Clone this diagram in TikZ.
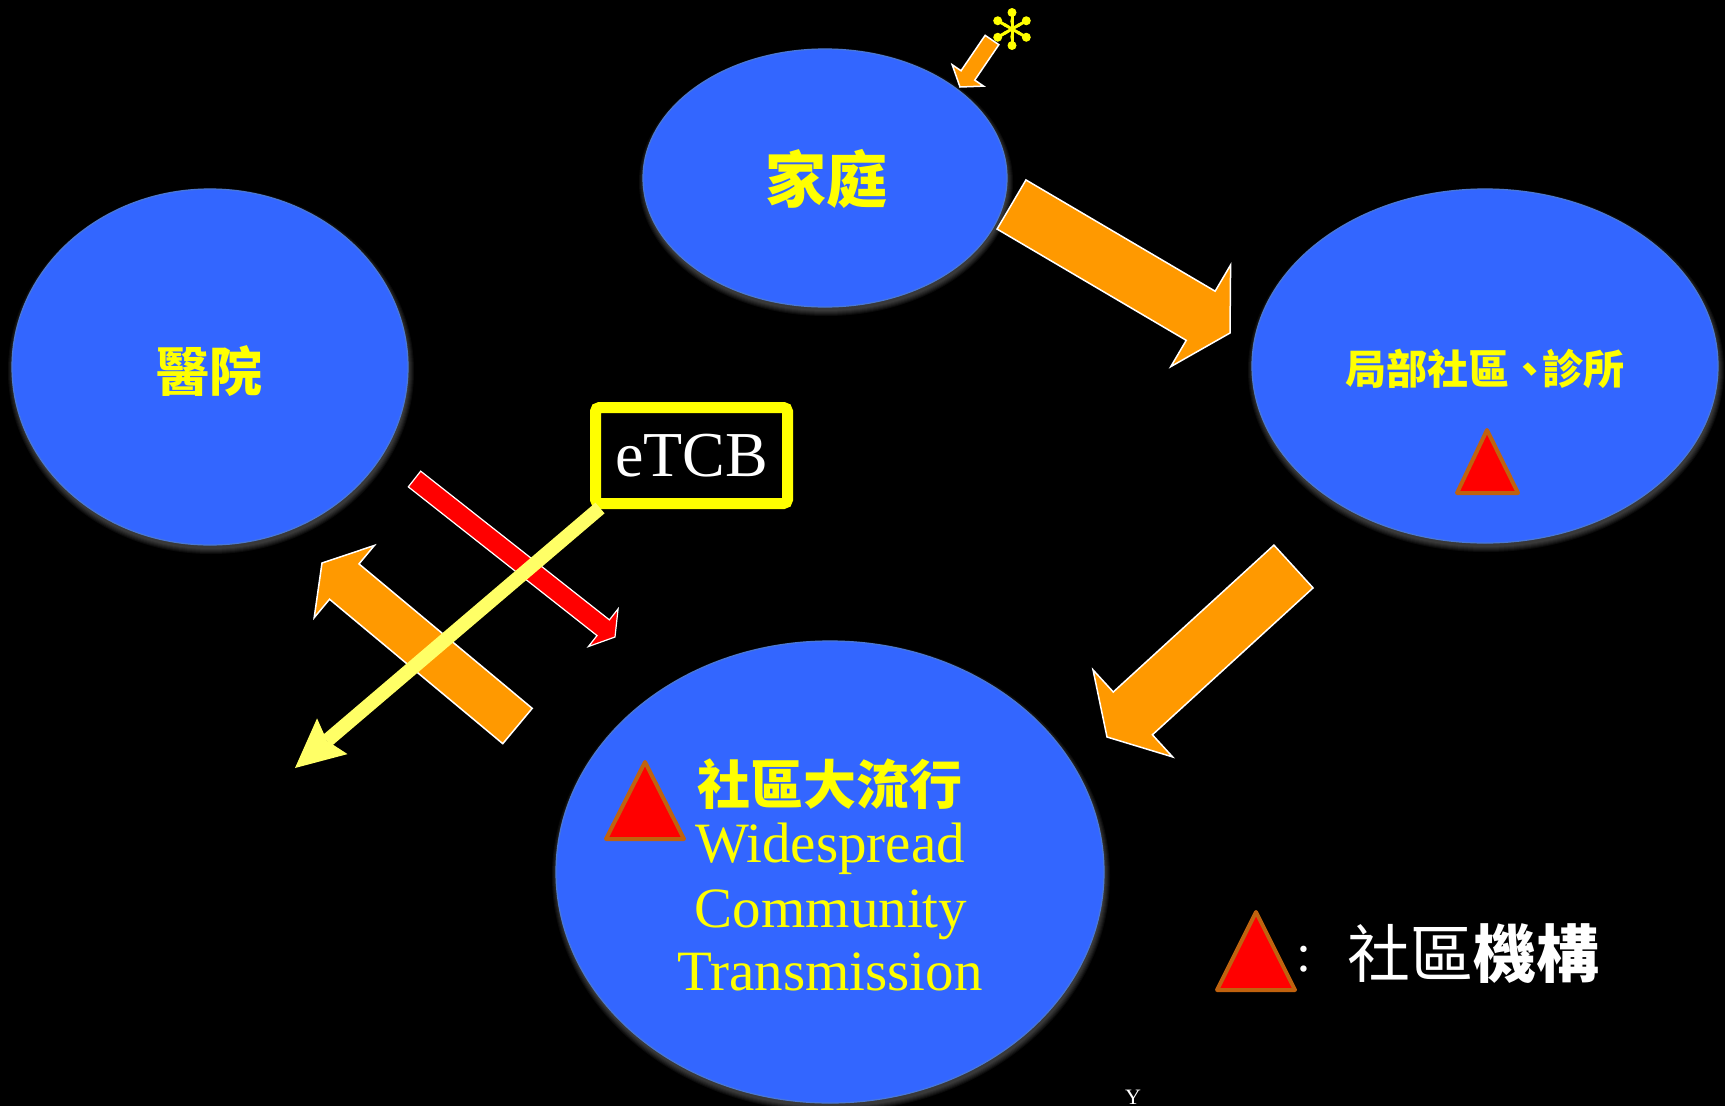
\documentclass[tikz,border=0pt]{standalone}
\usepackage{fontspec}
\setmainfont{Liberation Serif}
\newfontfamily\cjk{Noto Sans CJK TC}
\usetikzlibrary{calc,shapes.geometric}

\definecolor{blob}{HTML}{3366FF}
\definecolor{blobedge}{HTML}{4A78D6}
\definecolor{flow}{HTML}{FF9900}
\definecolor{tcbyellow}{HTML}{FFFF00}
\definecolor{paleyellow}{HTML}{FFFF66}
\definecolor{siteedge}{HTML}{C0620E}

% block arrow: #1 tail, #2 tip, #3 shaft half width, #4 head half width,
% #5 head length, #6 style
\newcommand\blockarrow[6]{%
  \coordinate (#1-neck) at ($(#2)!#5!(#1)$);
  \path[#6] ($(#1)!#3!90:(#2)$) -- ($(#1-neck)!#3!90:(#2)$)
    -- ($(#1-neck)!#4!90:(#2)$) -- (#2)
    -- ($(#1-neck)!#4!-90:(#2)$) -- ($(#1-neck)!#3!-90:(#2)$)
    -- ($(#1)!#3!-90:(#2)$) -- cycle;
}
% soft light halo under an ellipse: #1 centre, #2 x radius, #3 y radius
\newcommand\softglow[3]{%
  \foreach \k in {1,...,6}
    \fill[white, opacity=0.045] ($(#1)+(1,4)$) ellipse ({#2+\k-1} and {#3+\k-1});
}

\tikzset{
  blobnode/.style={ellipse, fill=blob, draw=blobedge, line width=1.2pt, inner sep=0pt},
  cjklabel/.style={text=tcbyellow, inner sep=0pt},
  flowarrow/.style={fill=flow, draw=white, line width=1.5pt, line join=miter},
  redarrow/.style={fill=red, draw=white, line width=1.2pt, line join=miter},
  site/.style={fill=red, draw=siteedge, line width=4pt, line join=round},
  engline/.style={text=tcbyellow, anchor=base, inner sep=0pt,
    font=\fontsize{57}{60}\selectfont},
}

\begin{document}
\begin{tikzpicture}[x=1pt,y=-1pt]
\fill[black] (0,0) rectangle (1725,1106);
\useasboundingbox (0,0) rectangle (1725,1106);

% ellipse centres
\coordinate (cFam)  at (825,178);
\coordinate (cHosp) at (210,367);
\coordinate (cLoc)  at (1485,366);
\coordinate (cComm) at (830,872);

\softglow{cFam}{182}{129}
\softglow{cHosp}{198}{178}
\softglow{cLoc}{233}{177}
\softglow{cComm}{274}{231}

\node[blobnode, minimum width=364pt, minimum height=258pt] (fam)  at (cFam)  {};
\node[blobnode, minimum width=396pt, minimum height=356pt] (hosp) at (cHosp) {};
\node[blobnode, minimum width=466pt, minimum height=354pt] (loc)  at (cLoc)  {};
\node[blobnode, minimum width=548pt, minimum height=462pt] (comm) at (cComm) {};

% labels
\node[cjklabel, font=\cjk\bfseries\fontsize{61}{61}\selectfont] (famtext) at (826,179) {家庭};
\node[cjklabel, font=\cjk\bfseries\fontsize{53}{53}\selectfont] (hosptext) at (209,371) {醫院};
\node[cjklabel, font=\cjk\bfseries\fontsize{41}{41}\selectfont] (loctext) at (1485,369) {局部社區、\kern-0.2em 診所};
\node[cjklabel, font=\cjk\bfseries\fontsize{53}{53}\selectfont] (commtext) at (830,784) {社區大流行};
\node[engline] (l1) at (830,862) {Widespread};
\node[engline] (l2) at (831,927) {Community};
\node[engline] (l3) at (830,990) {Transmission};

% community sites
\draw[site] (1487,430) -- (1518,493) -- (1457,493) -- cycle;
\draw[site] (645,762) -- (684,839) -- (606,839) -- cycle;

% flows between settings
\coordinate (a1t) at (1011.5,204.5); \coordinate (a1h) at (1230,333);
\blockarrow{a1t}{a1h}{28.5pt}{59pt}{34pt}{flowarrow}
\coordinate (a2t) at (1293.5,566.5); \coordinate (a2h) at (1107,737);
\blockarrow{a2t}{a2h}{29pt}{59pt}{35pt}{flowarrow}
\coordinate (a3t) at (517.5,726); \coordinate (a3h) at (322,563);
\blockarrow{a3t}{a3h}{23pt}{47pt}{29pt}{flowarrow}
\coordinate (a4t) at (992,40); \coordinate (a4h) at (960,87);
\blockarrow{a4t}{a4h}{8.3pt}{19pt}{14pt}{flowarrow}
\coordinate (rt) at (414.5,479); \coordinate (rh) at (615,637);
\blockarrow{rt}{rh}{10pt}{24pt}{15pt}{redarrow}

% asterisk
\coordinate (star) at (1012,29);
\foreach \a in {30,90,...,330} {
  \fill[tcbyellow] (star) -- ($(star)+(\a+12:8)$) -- ($(star)+(\a:15)$)
     -- ($(star)+(\a-12:8)$) -- cycle;
  \draw[tcbyellow, line width=3pt] (star) -- ($(star)+(\a:16)$);
  \fill[tcbyellow] ($(star)+(\a:16.5)$) circle (4.5);
}

% eTCB box and its arrow
\node[draw=tcbyellow, line width=11pt, rounded corners=4pt, fill=black,
      minimum width=192pt, minimum height=96pt, inner sep=0pt,
      text=white, font=\fontsize{64}{70}\selectfont] (tcb) at (691.5,455.5) {eTCB};
\coordinate (ystart) at ($(tcb.south west)+(10,-1)$);
\coordinate (ytip) at (295,768);
\coordinate (yneck) at ($(ytip)!49pt!(ystart)$);
\coordinate (ynotch) at ($(ytip)!42pt!(ystart)$);
\draw[paleyellow, line width=14pt] (ystart) -- (ynotch);
\fill[paleyellow] (ytip) -- ($(yneck)!23.5pt!90:(ytip)$) -- (ynotch)
  -- ($(yneck)!23.5pt!-90:(ytip)$) -- cycle;

% legend
\draw[site] (1256,912) -- (1295,990) -- (1217,990) -- cycle;
\node[text=white, inner sep=0pt, font=\fontsize{54}{54}\selectfont] (colon) at (1304,959) {:};
\node[text=white, inner sep=0pt, font=\cjk\fontsize{63}{63}\selectfont] (legend) at (1473,954) {社區{\bfseries 機構}};

\node[text=white, anchor=base, inner sep=0pt, font=\fontsize{22}{22}\selectfont] (ymark) at (1133,1104) {Y};
\end{tikzpicture}
\end{document}
